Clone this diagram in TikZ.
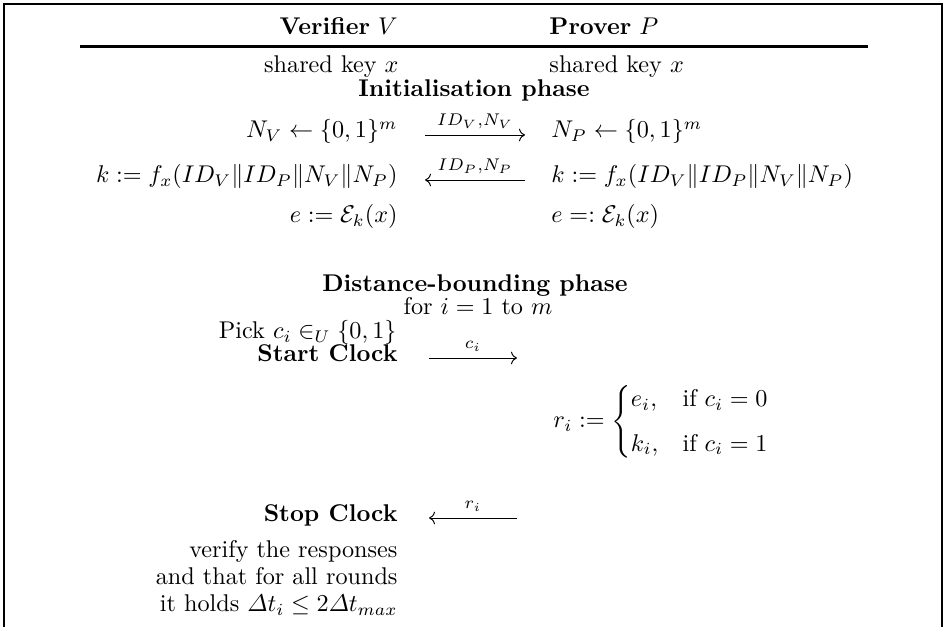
\documentclass[tikz,border=0pt]{standalone}
\usepackage{amsmath,amssymb}
\usetikzlibrary{arrows.meta}
\begin{document}
\begin{tikzpicture}[x=0.4132pt,y=-0.4132pt,
  lbl/.style={inner sep=0pt, anchor=base east},
  rbl/.style={inner sep=0pt, anchor=base west},
  cbl/.style={inner sep=0pt, anchor=base},
  msg/.style={line width=0.4pt, -{Computer Modern Rightarrow}},
  frameline/.style={line width=1.1pt},
  headrule/.style={line width=1.2pt}]
\useasboundingbox (0,0) rectangle (945,627);
\draw[frameline] (4,627) -- (4,4) -- (942,4) -- (942,627);
\draw[headrule] (80,46.5) -- (868,46.5);
% header
\node[lbl] (hv) at (398,35) {\textbf{Verifier} $V$};
\node[rbl] (hp) at (549,35) {\textbf{Prover} $P$};
\node[lbl] (kv) at (399,73) {shared key $x$};
\node[rbl] (kp) at (549,73) {shared key $x$};
\node[cbl] (init) at (474,97) {\textbf{Initialisation phase}};
% row 1
\node[lbl] (nv) at (398,138) {$N_V \leftarrow \{0,1\}^m$};
\node[rbl] (np) at (551,138) {$N_P \leftarrow \{0,1\}^m$};
\coordinate (a1s) at (425,135);
\coordinate (a1e) at (525,135);
\draw[msg] (a1s) -- (a1e);
\node[cbl] (l1) at (475,126) {$\scriptstyle ID_V,N_V$};
% row 2
\node[lbl] (fv) at (398,183) {$k := f_x(ID_V\|ID_P\|N_V\|N_P)$};
\node[rbl] (fp) at (551,183) {$k := f_x(ID_V\|ID_P\|N_V\|N_P)$};
\coordinate (a2s) at (525,180);
\coordinate (a2e) at (425,180);
\draw[msg] (a2s) -- (a2e);
\node[cbl] (l2) at (475,171) {$\scriptstyle ID_P,N_P$};
% row 3
\node[lbl] (ev) at (398,223) {$e := \mathcal{E}_k(x)$};
\node[rbl] (ep) at (551,223) {$e =: \mathcal{E}_k(x)$};
% distance bounding
\node[cbl] (db) at (475,292) {\textbf{Distance-bounding phase}};
\node[cbl] (for) at (478,315) {for $i=1$ to $m$};
\node[lbl] (pick) at (397,339) {Pick $c_i \in_U \{0,1\}$};
\node[lbl] (start) at (398,362) {\textbf{Start Clock}};
\coordinate (a3s) at (429,358);
\coordinate (a3e) at (517,358);
\draw[msg] (a3s) -- (a3e);
\node[cbl] (l3) at (473,349) {$\scriptstyle c_i$};
\node[rbl] (resp) at (553,428) {$r_i := \begin{cases} e_i, & \text{if } c_i = 0\\[4pt] k_i, & \text{if } c_i = 1\end{cases}$};
\node[lbl] (stop) at (398,522) {\textbf{Stop Clock}};
\coordinate (a4s) at (517,518);
\coordinate (a4e) at (429,518);
\draw[msg] (a4s) -- (a4e);
\node[cbl] (l4) at (473,509) {$\scriptstyle r_i$};
\node[lbl] (v1) at (398,558) {verify the responses};
\node[lbl] (v2) at (398,585) {and that for all rounds};
\node[lbl] (v3) at (398,612) {it holds $\varDelta t_i \leq 2\varDelta t_{max}$};
\end{tikzpicture}
\end{document}
